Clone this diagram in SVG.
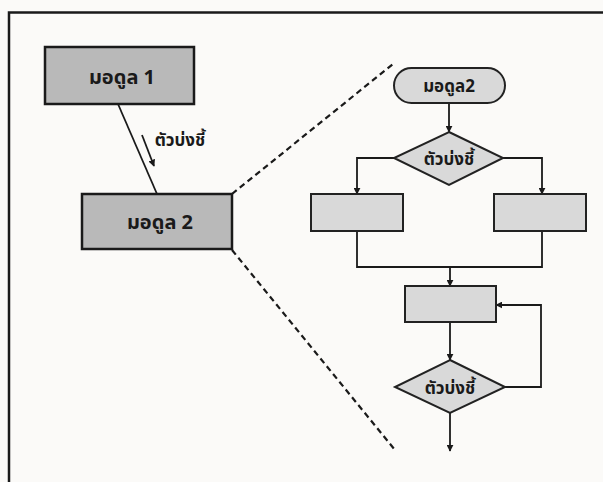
<svg xmlns="http://www.w3.org/2000/svg" width="603" height="482" viewBox="0 0 603 482">
<defs>
<style>
.frame{fill:none;stroke:#1a1a1a;stroke-width:2.5}
.mod{fill:#b9b9b9;stroke:#1a1a1a;stroke-width:2.5}
.box{fill:#d9d9d9;stroke:#222;stroke-width:2}
.ln{fill:none;stroke:#1a1a1a;stroke-width:1.8}
.arr{fill:none;stroke:#1a1a1a;stroke-width:1.8;marker-end:url(#ah)}
.dash{fill:none;stroke:#1a1a1a;stroke-width:2.2;stroke-dasharray:6 4}
.t{font-family:"Noto Sans Thai","Noto Serif Thai","Loma","Garuda","Norasi","Liberation Serif","DejaVu Sans",serif;font-weight:bold;fill:#1a1a1a;text-anchor:middle}
</style>
<marker id="ah" viewBox="0 0 10 10" refX="9" refY="5" markerWidth="7" markerHeight="7" orient="auto" markerUnits="userSpaceOnUse">
<path d="M0,0 L10,5 L0,10 z" fill="#1a1a1a"/>
</marker>
</defs>
<rect x="0" y="0" width="603" height="482" fill="#fbfaf8"/>
<path class="frame" d="M9,482 V12.5 H603"/>
<g id="connectors">
<line class="ln" x1="118" y1="104" x2="157" y2="194"/>
<line class="arr" x1="142" y1="135" x2="154" y2="166"/>
<line class="dash" x1="232" y1="194" x2="393" y2="64"/>
<line class="dash" x1="232" y1="250" x2="395" y2="450"/>
<line class="arr" x1="449" y1="103" x2="449" y2="132"/>
<polyline class="arr" points="394,158 357,158 357,194"/>
<polyline class="arr" points="503,158 542,158 542,194"/>
<polyline class="ln" points="357,231 357,267 542,267 542,231"/>
<line class="arr" x1="450" y1="267" x2="450" y2="286"/>
<line class="arr" x1="450" y1="322" x2="450" y2="360"/>
<polyline class="arr" points="505,387 541,387 541,305 496,305"/>
<line class="arr" x1="450" y1="413" x2="450" y2="451"/>
</g>
<g id="label-pointer">
<text class="t" x="180" y="146" font-size="17">ตัวบ่งชี้</text>
</g>
<g id="module1">
<rect class="mod" x="45" y="47" width="149" height="57"/>
<text class="t" x="122" y="84" font-size="20">มอดูล 1</text>
</g>
<g id="module2">
<rect class="mod" x="82" y="194" width="150" height="55"/>
<text class="t" x="160" y="229" font-size="20">มอดูล 2</text>
</g>
<g id="start">
<rect class="box" x="394" y="68" width="111" height="35" rx="17.5"/>
<text class="t" x="449" y="92" font-size="17">มอดูล2</text>
</g>
<g id="decision1">
<polygon class="box" points="449,132 503,158 449,185 394,158"/>
<text class="t" x="449" y="165" font-size="17">ตัวบ่งชี้</text>
</g>
<g id="boxLeft">
<rect class="box" x="311" y="194" width="92" height="37"/>
</g>
<g id="boxRight">
<rect class="box" x="494" y="194" width="92" height="37"/>
</g>
<g id="box3">
<rect class="box" x="405" y="286" width="91" height="36"/>
</g>
<g id="decision2">
<polygon class="box" points="450,360 505,387 450,413 395,387"/>
<text class="t" x="450" y="394" font-size="17">ตัวบ่งชี้</text>
</g>
</svg>
